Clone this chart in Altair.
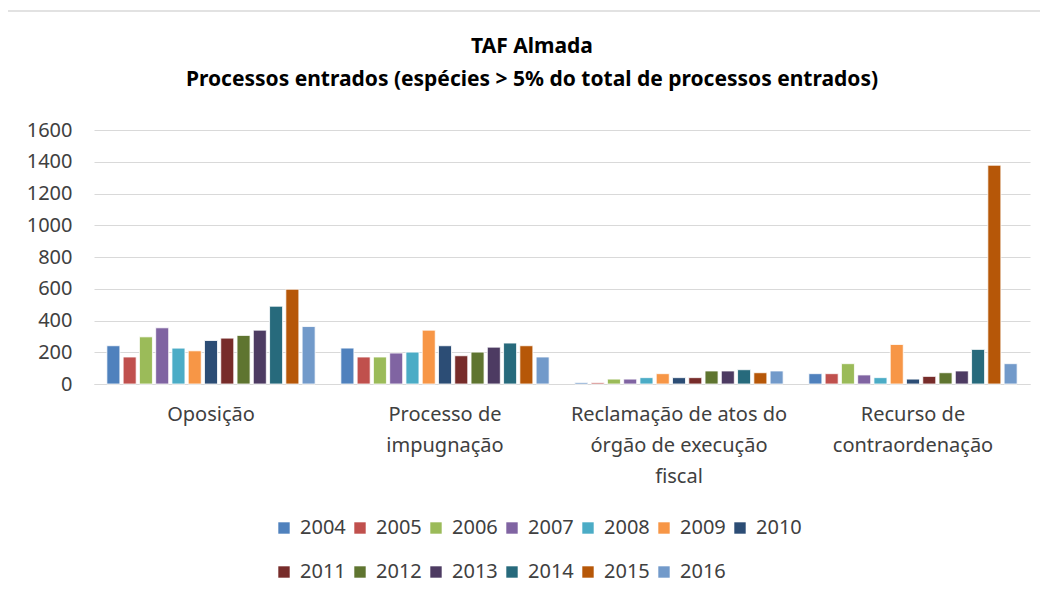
import altair as alt
import pandas as pd

categories = [
    "Oposição",
    "Processo de|impugnação",
    "Reclamação de atos do|órgão de execução|fiscal",
    "Recurso de|contraordenação",
]
years = [str(y) for y in range(2004, 2017)]
oposicao = [241, 170, 297, 354, 226, 209, 274, 289, 306, 339, 490, 597, 362]
impugnacao = [226, 170, 170, 195, 201, 339, 241, 178, 201, 232, 258, 241, 170]
reclamacao = [8, 8, 31, 31, 40, 65, 40, 40, 82, 82, 90, 71, 82]
recurso = [65, 65, 128, 57, 40, 249, 31, 48, 71, 82, 218, 1378, 128]
colors = ["#4F81BD", "#C0504D", "#9BBB59", "#8064A2", "#4BACC6", "#F79646",
          "#2C4D75", "#772C2A", "#5F7530", "#4D3B62", "#276A7C", "#B65708", "#729ACA"]
title_lines = ["TAF Almada",
               "Processos entrados (espécies > 5% do total de processos entrados)"]

rows = []
for cat, vals in zip(categories, [oposicao, impugnacao, reclamacao, recurso]):
    for y, v in zip(years, vals):
        rows.append({"cat": cat, "year": y, "value": v})
df = pd.DataFrame(rows)
one = pd.DataFrame({"k": [0]})

FONT = "Noto Sans"

bars = alt.Chart(df).mark_bar(stroke="white", strokeWidth=0.8).encode(
    x=alt.X("cat:N", sort=categories, title=None,
            scale=alt.Scale(paddingInner=0.11, paddingOuter=0.055),
            axis=alt.Axis(labelExpr="split(datum.label, '|')", labelAngle=0,
                          labelFontSize=20, labelFont=FONT, labelColor="#404040",
                          labelLineHeight=31, labelPadding=20, ticks=False, labelLimit=0,
                          domainColor="#d9d9d9", domainWidth=1.2, labelBaseline="top")),
    xOffset=alt.XOffset("year:N", sort=years, scale=alt.Scale(paddingInner=0.2)),
    y=alt.Y("value:Q", title=None,
            scale=alt.Scale(domain=[0, 1600]),
            axis=alt.Axis(values=list(range(0, 1601, 200)), format="d", labelFontSize=20,
                          labelFont=FONT, labelColor="#404040", labelPadding=22,
                          ticks=False, domain=False, gridColor="#d9d9d9", gridWidth=1.2)),
    color=alt.Color("year:N", sort=years,
                    scale=alt.Scale(domain=years, range=colors),
                    legend=alt.Legend(title=None, orient="none", legendX=180, legendY=388,
                                      direction="horizontal", columns=7,
                                      symbolType="square", symbolSize=130,
                                      symbolStrokeWidth=0, labelFontSize=20,
                                      labelFont=FONT, labelColor="#404040",
                                      labelOffset=6, columnPadding=4, rowPadding=24)),
)

title1 = alt.Chart(one).mark_text(
    font=FONT, fontSize=21, fontWeight="bold", color="#000000", clip=False,
    align="center", baseline="middle"
).encode(text=alt.value(title_lines[0]), x=alt.value(438), y=alt.value(-83))
title2 = alt.Chart(one).mark_text(
    font=FONT, fontSize=21, fontWeight="bold", color="#000000", clip=False,
    align="center", baseline="middle"
).encode(text=alt.value(title_lines[1]), x=alt.value(438), y=alt.value(-50))

top_border = alt.Chart(one).mark_rule(color="#d9d9d9", strokeWidth=1.5, clip=False).encode(
    x=alt.value(-88), x2=alt.value(960), y=alt.value(-119))
left_border = alt.Chart(one).mark_rule(color="#d9d9d9", strokeWidth=1.5, clip=False).encode(
    x=alt.value(-88), y=alt.value(-119), y2=alt.value(480))

chart = alt.layer(top_border, left_border, bars, title1, title2).properties(
    width=936, height=254,
    autosize=alt.AutoSizeParams(type="none"),
    padding={"left": 86, "top": 122, "right": 10, "bottom": 215},
).configure_view(stroke=None)

chart.save("out.html", embed_options={"renderer": "svg", "actions": False})
